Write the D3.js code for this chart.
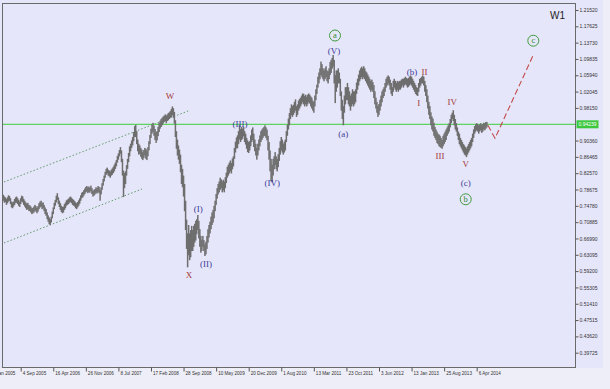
<!DOCTYPE html>
<html><head><meta charset="utf-8">
<script src="https://cdnjs.cloudflare.com/ajax/libs/d3/7.8.5/d3.min.js"></script>
<style>html,body{margin:0;padding:0;background:#eeeef8;}svg{display:block}</style>
</head><body><svg id="c" width="610" height="389"></svg>
<script>
// ---- data -------------------------------------------------------------
const firstWeek = Date.UTC(2005, 4, 1);            // first weekly bar (Sunday)
// weekly [low, high] of AUD/USD, one pair per week
const weeklyRange = [
[.758,.776],[.760,.774],[.755,.770],[.757,.768],[.750,.764],
[.754,.768],[.758,.773],[.760,.771],[.752,.766],
[.744,.758],[.742,.756],[.746,.758],[.750,.764],[.755,.768],
[.755,.770],[.752,.766],[.748,.762],[.745,.758],
[.752,.766],[.758,.772],[.756,.770],[.750,.764],
[.746,.760],[.742,.756],[.738,.753],[.740,.755],[.736,.750],
[.735,.749],[.732,.746],[.728,.742],[.730,.743],
[.732,.746],[.736,.750],[.734,.747],[.730,.743],[.734,.747],
[.740,.754],[.744,.758],[.746,.760],[.740,.755],
[.742,.756],[.735,.750],[.728,.744],[.724,.740],
[.716,.732],[.710,.725],[.704,.720],[.702,.716],[.708,.722],
[.718,.734],[.728,.744],[.740,.755],[.748,.762],
[.756,.772],[.762,.778],[.752,.768],[.745,.760],
[.738,.754],[.733,.748],[.730,.745],[.732,.746],[.738,.752],
[.742,.756],[.748,.761],[.750,.763],[.752,.765],
[.755,.768],[.757,.770],[.754,.767],[.750,.764],[.748,.762],
[.746,.759],[.742,.756],[.740,.754],[.744,.757],
[.748,.761],[.753,.766],[.760,.773],[.766,.779],
[.768,.781],[.772,.785],[.776,.789],[.780,.793],
[.782,.795],[.778,.792],[.781,.794],[.779,.791],[.784,.796],
[.776,.790],[.770,.784],[.772,.786],[.775,.788],
[.779,.792],[.777,.790],[.781,.795],[.778,.793],
[.760,.786],[.775,.792],[.786,.802],[.796,.812],
[.806,.820],[.815,.829],[.822,.836],[.825,.839],[.820,.834],
[.818,.832],[.815,.830],[.820,.834],[.822,.837],
[.826,.841],[.830,.846],[.836,.851],[.842,.857],
[.851,.867],[.858,.873],[.866,.881],[.872,.888],[.852,.880],
[.820,.860],[.769,.832],[.790,.826],[.800,.830],
[.820,.845],[.836,.860],[.852,.874],[.866,.890],
[.878,.896],[.886,.904],[.892,.912],[.902,.924],[.912,.938],
[.912,.941],[.895,.926],[.878,.906],[.870,.896],
[.872,.892],[.865,.886],[.860,.882],[.857,.876],[.862,.881],
[.868,.886],[.860,.884],[.857,.880],[.866,.888],
[.880,.902],[.895,.917],[.910,.932],[.920,.942],
[.925,.946],[.915,.939],[.905,.931],[.898,.924],[.904,.926],
[.914,.936],[.924,.946],[.932,.951],[.936,.955],
[.940,.958],[.944,.961],[.948,.963],[.950,.966],
[.945,.963],[.950,.966],[.952,.969],[.955,.971],[.958,.974],
[.960,.979],[.964,.985],[.958,.981],[.944,.972],
[.912,.952],[.884,.926],[.868,.906],[.858,.892],
[.848,.882],[.828,.870],[.800,.846],[.792,.836],
[.770,.820],[.735,.800],[.690,.760],[.645,.715],[.601,.682],
[.630,.702],[.618,.682],[.625,.690],[.640,.700],
[.640,.690],[.650,.700],[.660,.705],[.665,.712],[.680,.716],
[.690,.726],[.670,.712],[.650,.692],[.636,.676],
[.640,.667],[.650,.676],[.640,.666],[.628,.656],
[.632,.662],[.645,.676],[.660,.692],[.672,.702],[.682,.710],
[.692,.722],[.702,.732],[.708,.738],[.718,.748],
[.735,.760],[.750,.776],[.765,.790],[.775,.800],[.780,.806],
[.786,.815],[.790,.811],[.780,.806],[.785,.810],
[.780,.806],[.790,.816],[.802,.827],[.815,.841],
[.820,.846],[.825,.851],[.830,.856],[.825,.850],[.835,.861],
[.842,.866],[.860,.886],[.875,.901],[.885,.911],
[.885,.916],[.895,.926],[.906,.941],[.900,.931],
[.905,.936],[.908,.932],[.914,.936],[.900,.926],
[.894,.920],[.884,.910],[.876,.904],[.874,.900],[.880,.902],
[.890,.916],[.900,.930],[.905,.935],[.888,.920],
[.878,.906],[.868,.896],[.858,.886],[.868,.896],
[.880,.906],[.890,.916],[.900,.926],[.905,.930],[.910,.933],
[.914,.936],[.915,.940],[.910,.935],[.904,.930],
[.880,.915],[.858,.900],[.830,.880],[.806,.860],
[.804,.846],[.820,.860],[.835,.866],[.845,.876],[.835,.866],
[.830,.860],[.840,.871],[.855,.886],[.870,.902],
[.880,.912],[.875,.906],[.870,.896],[.875,.901],
[.880,.906],[.900,.926],[.915,.941],[.930,.956],[.940,.969],
[.955,.981],[.964,.990],[.960,.986],[.965,.989],
[.970,.996],[.975,1.002],[.960,.986],[.965,.990],
[.975,.999],[.980,1.003],[.985,1.006],[.990,1.011],[.995,1.016],
[.990,1.015],[.985,1.010],[.990,1.013],[.985,1.008],
[.990,1.013],[.995,1.016],[.992,1.013],[.985,1.009],
[.980,1.006],[.975,.999],[.970,.996],[.985,1.011],[1.000,1.026],
[1.015,1.037],[1.030,1.056],[1.040,1.066],[1.050,1.076],
[1.060,1.092],[1.055,1.086],[1.050,1.076],[1.045,1.071],[1.050,1.076],
[1.055,1.081],[1.045,1.071],[1.040,1.069],[1.050,1.076],
[1.060,1.091],[1.065,1.096],[1.075,1.101],[1.080,1.108],
[1.040,1.096],[.993,1.060],[1.020,1.071],[1.030,1.071],[1.040,1.076],
[1.040,1.066],[1.010,1.051],[.975,1.021],[.955,1.001],
[.940,.986],[.970,1.011],[.990,1.031],[1.000,1.031],
[1.000,1.041],[.990,1.031],[.985,1.021],[.975,1.011],[.985,1.016],
[.990,1.026],[.985,1.021],[.990,1.021],[.995,1.026],
[1.015,1.042],[1.025,1.051],[1.035,1.061],[1.045,1.071],
[1.050,1.076],[1.055,1.080],[1.050,1.076],[1.055,1.081],
[1.050,1.076],[1.045,1.069],[1.040,1.066],[1.035,1.061],[1.030,1.056],
[1.025,1.051],[1.020,1.046],[1.025,1.049],[1.020,1.043],
[1.005,1.036],[.990,1.021],[.980,1.006],[.970,.996],[.960,.986],
[.965,.991],[.975,1.001],[.985,1.011],[.995,1.021],
[1.005,1.026],[1.010,1.031],[1.020,1.041],[1.030,1.051],
[1.035,1.056],[1.040,1.059],[1.035,1.056],[1.025,1.049],[1.015,1.041],
[1.010,1.031],[1.020,1.046],[1.030,1.051],[1.025,1.046],
[1.020,1.041],[1.025,1.046],[1.020,1.043],[1.025,1.046],
[1.025,1.046],[1.030,1.049],[1.035,1.051],[1.030,1.051],
[1.035,1.053],[1.038,1.056],[1.035,1.053],[1.030,1.051],[1.032,1.053],
[1.035,1.056],[1.038,1.059],[1.035,1.056],[1.030,1.051],
[1.025,1.046],[1.020,1.041],[1.015,1.036],[1.012,1.031],
[1.010,1.029],[1.020,1.041],[1.030,1.051],[1.035,1.053],[1.040,1.056],
[1.040,1.059],[1.035,1.056],[1.020,1.046],[1.010,1.036],
[.995,1.026],[.980,1.011],[.965,.996],[.955,.986],[.940,.971],
[.930,.961],[.925,.956],[.915,.946],[.910,.936],
[.905,.930],[.898,.925],[.895,.920],[.890,.918],[.888,.915],
[.886,.910],[.884,.905],[.890,.915],[.895,.920],[.900,.925],
[.905,.930],[.915,.935],[.920,.940],[.925,.945],[.935,.955],
[.945,.965],[.955,.970],[.950,.976],[.940,.965],[.930,.955],
[.925,.945],[.915,.935],[.905,.925],[.895,.920],[.890,.910],
[.885,.905],[.880,.900],[.875,.895],[.870,.892],[.868,.888],
[.864,.885],[.870,.890],[.875,.895],[.880,.900],[.885,.905],
[.890,.910],[.900,.920],[.910,.930],[.920,.938],[.925,.942],
[.928,.945],[.925,.943],[.920,.940],[.925,.942],[.928,.945],
[.922,.940],[.925,.943],[.930,.946],[.928,.945],[.932,.948],
[.935,.948]
];
const currentPrice = 0.94239;
const yTickValues = [1.21520,1.17625,1.13730,1.09835,1.05940,1.02045,0.98150,0.90360,0.86465,0.82570,0.78675,0.74780,0.70885,0.66990,0.63095,0.59200,0.55305,0.51410,0.47515,0.43620,0.39725];
const xTickWeeks  = [-14,18,50,82,114,146,178,210,242,274,306,338,370,402,434,466];
const xTickLabels = ["23 Jan 2005","4 Sep 2005","16 Apr 2006","26 Nov 2006","8 Jul 2007","17 Feb 2008","28 Sep 2008","10 May 2009","20 Dec 2009","1 Aug 2010","13 Mar 2011","23 Oct 2011","3 Jun 2012","13 Jan 2013","25 Aug 2013","6 Apr 2014"];
// Elliott wave labels: [text, week index, price, colour group]
const waveLabels = [
 ["W",164.7,1.0100,"r"],["X",183.3,0.5816,"r"],
 ["(I)",192.4,0.7395,"b"],["(II)",200.0,0.6078,"b"],["(III)",233.4,0.9443,"b"],
 ["(IV)",265.2,0.8011,"b"],["(V)",325.8,1.1185,"b"],["(a)",334.9,0.9181,"b"],
 ["(b)",402.4,1.0672,"b"],["(c)",455.2,0.8030,"b"],
 ["I",409.0,0.9925,"r"],["II",414.7,1.0679,"r"],["III",429.9,0.8675,"r"],
 ["IV",442.0,0.9956,"r"],["V",455.2,0.8477,"r"]
];
const circleLabels = [["a",326.8,1.1543],["b",455.2,0.7634],["c",521.6,1.1419]];
// channel lines: [[week, price],[week, price]]
const channelUpper = [[1.6,0.8047],[182.5,0.9742]];
const channelLower = [[1.6,0.6591],[137.2,0.7880]];
// projected path
const projection = [[477,0.9400],[484,0.9090],[521.6,1.1078]];

// ---- drawing ----------------------------------------------------------
const weekDate = i => new Date(firstWeek + i * 7 * 864e5);
const L = 2.5, R = 575.5, T = 3.5, B = 367.5;
const x = d3.scaleUtc().domain([weekDate(18), weekDate(466)]).range([20.7, 476.7]);
const y = d3.scaleLinear().domain([0.39725, 1.21520]).range([352.7, 10]);

const svg = d3.select("#c");
svg.append("rect").attr("x",0).attr("y",0).attr("width",603).attr("height",368).attr("fill","#e6e6fa");
svg.append("defs").append("clipPath").attr("id","clip")
  .append("rect").attr("x",L).attr("y",T).attr("width",R-L).attr("height",B-T);
const plot = svg.append("g").attr("clip-path","url(#clip)");

// channel lines
[channelUpper, channelLower].forEach(c => {
  plot.append("line")
    .attr("x1", x(weekDate(c[0][0]))).attr("y1", y(c[0][1]))
    .attr("x2", x(weekDate(c[1][0]))).attr("y2", y(c[1][1]))
    .attr("stroke","#5f9a68").attr("stroke-width",1).attr("stroke-dasharray","1.5,2");
});

// current price line
plot.append("line").attr("x1",L).attr("x2",R).attr("y1",y(currentPrice)).attr("y2",y(currentPrice))
  .attr("stroke","#5ed35e").attr("stroke-width",1.2);

// bars
plot.append("g").selectAll("rect").data(weeklyRange).join("rect")
  .attr("x",(d,i)=>x(weekDate(i))-0.75).attr("width",1.5)
  .attr("y",d=>y(d[1])).attr("height",d=>y(d[0])-y(d[1]))
  .attr("fill","#6e6e6e");

// projection
plot.append("path")
  .attr("d", d3.line().x(d=>x(weekDate(d[0]))).y(d=>y(d[1]))(projection))
  .attr("fill","none").attr("stroke","#c24a4a").attr("stroke-width",1.1).attr("stroke-dasharray","6,3");

// wave labels
const col = {r:"#a33a3a", b:"#3c3c98"};
plot.append("g").selectAll("text").data(waveLabels).join("text")
  .attr("x",d=>x(weekDate(d[1]))).attr("y",d=>y(d[2]))
  .attr("text-anchor","middle").attr("dominant-baseline","central")
  .attr("font-family","Liberation Serif, serif").attr("font-size",9)
  .attr("fill",d=>col[d[3]]).text(d=>d[0]);

const cg = plot.append("g").selectAll("g").data(circleLabels).join("g")
  .attr("transform",d=>`translate(${x(weekDate(d[1]))},${y(d[2])})`);
cg.append("circle").attr("r",5.5).attr("fill","none").attr("stroke","#3f9a3f").attr("stroke-width",1);
cg.append("text").attr("text-anchor","middle").attr("dominant-baseline","central").attr("y",-0.5)
  .attr("font-family","Liberation Serif, serif").attr("font-size",8.5).attr("fill","#2f8a2f").text(d=>d[0]);

// title
svg.append("text").attr("x",550).attr("y",19).attr("font-family","Liberation Sans, Arial, sans-serif")
  .attr("font-size",10).attr("fill","#222").text("W1");

// frame
svg.append("rect").attr("x",L).attr("y",T).attr("width",R-L).attr("height",B-T)
  .attr("fill","none").attr("stroke","#6a6a6a").attr("stroke-width",1);

// y axis
const ya = svg.append("g").attr("transform",`translate(${R},0)`)
  .call(d3.axisRight(y).tickValues(yTickValues).tickSize(3).tickPadding(1).tickFormat(d3.format(".5f")));
ya.select(".domain").remove();
ya.selectAll("line").attr("stroke","#555");
ya.selectAll("text").attr("font-family","Liberation Sans, Arial, sans-serif").attr("font-size",5).attr("fill","#333");

// current price tag
const py = y(currentPrice);
svg.append("rect").attr("x",R+1).attr("y",py-4).attr("width",22).attr("height",8).attr("fill","#3cc83c");
svg.append("text").attr("x",R+3).attr("y",py).attr("dominant-baseline","central")
  .attr("font-family","Liberation Sans, Arial, sans-serif").attr("font-size",5).attr("fill","#ffffff")
  .text(d3.format(".5f")(currentPrice));

// x axis
const xa = svg.append("g").attr("transform",`translate(0,${B})`)
  .call(d3.axisBottom(x).tickValues(xTickWeeks.map(weekDate)).tickSize(4)
    .tickFormat((d,i)=>xTickLabels[i]));
xa.select(".domain").remove();
xa.selectAll("line").attr("stroke","#555");
xa.selectAll("text").attr("text-anchor","start").attr("dx",1.5).attr("y",7.5).attr("dy",0)
  .attr("font-family","Liberation Sans, Arial, sans-serif").attr("font-size",4.6).attr("fill","#333");
</script></body></html>
